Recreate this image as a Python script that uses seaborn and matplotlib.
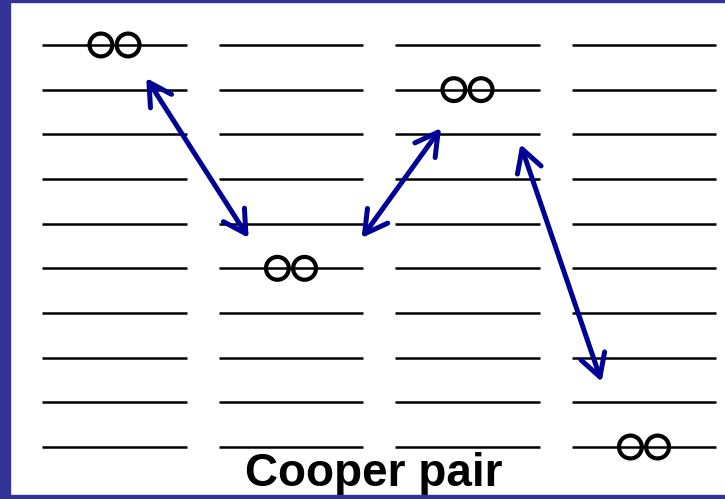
import matplotlib
matplotlib.use("Agg")
import matplotlib.pyplot as plt
from matplotlib.patches import Rectangle
import numpy as np
import pandas as pd
import seaborn as sns

# energy levels drawn in each of the four snapshots
columns = [0, 1, 2, 3]
levels = [0, 1, 2, 3, 4, 5, 6, 7, 8, 9]

# where the Cooper pair sits in each snapshot
pair_column = [0, 1, 2, 3]
pair_level = [9, 4, 8, 0]

# scattering arrows (column, level) start -> end
arrow_x0 = [0.18, 1.40, 2.30]
arrow_y0 = [8.26, 4.68, 6.78]
arrow_x1 = [0.76, 1.85, 2.76]
arrow_y1 = [4.68, 7.14, 1.46]

label = "Cooper pair"

navy = "#000096"
frame = "#333399"

sns.set_style("white")
plt.rcParams['font.family'] = ['Liberation Sans', 'DejaVu Sans']

fig = plt.figure(figsize=(7.25, 4.99), dpi=100)
ax = fig.add_axes([0, 0, 1, 1])
ax.set_xlim(-0.6487, 3.459)
ax.set_ylim(-1.164, 10.007)
ax.axis("off")

# level lines
half = 0.41
for c in columns:
    ax.hlines(levels, c - half, c + half, color="black", lw=1.8, zorder=1)

# the pair: two electrons side by side
off = 0.077
pts = pd.DataFrame({
    "x": np.concatenate([np.array(pair_column) - off, np.array(pair_column) + off]),
    "y": pair_level + pair_level,
})
sns.scatterplot(data=pts, x="x", y="y", ax=ax, s=270, marker="o",
                facecolor="none", edgecolor="black", linewidth=3.0, zorder=3)

# scattering arrows
for x0, y0, x1, y1 in zip(arrow_x0, arrow_y0, arrow_x1, arrow_y1):
    ax.annotate("", xy=(x1, y1), xytext=(x0, y0),
                arrowprops=dict(arrowstyle="<->,head_length=0.8,head_width=0.45",
                                mutation_scale=20,
                                color=navy, lw=3.6, capstyle="round",
                                joinstyle="round", shrinkA=0, shrinkB=0),
                zorder=4)

ax.text(1.47, -0.873, label, ha="center", va="baseline",
        fontsize=33, fontweight="bold", color="black")

# slide frame
fig.patches.append(Rectangle((0, 0), 10 / 725, 1, transform=fig.transFigure,
                             color=frame, zorder=10))
fig.patches.append(Rectangle((0, 1 - 2 / 499), 1, 2 / 499, transform=fig.transFigure,
                             color=frame, zorder=10))
fig.patches.append(Rectangle((0, 0), 1, 4 / 499, transform=fig.transFigure,
                             color=frame, zorder=10))

fig.savefig("out.png", dpi=100)
